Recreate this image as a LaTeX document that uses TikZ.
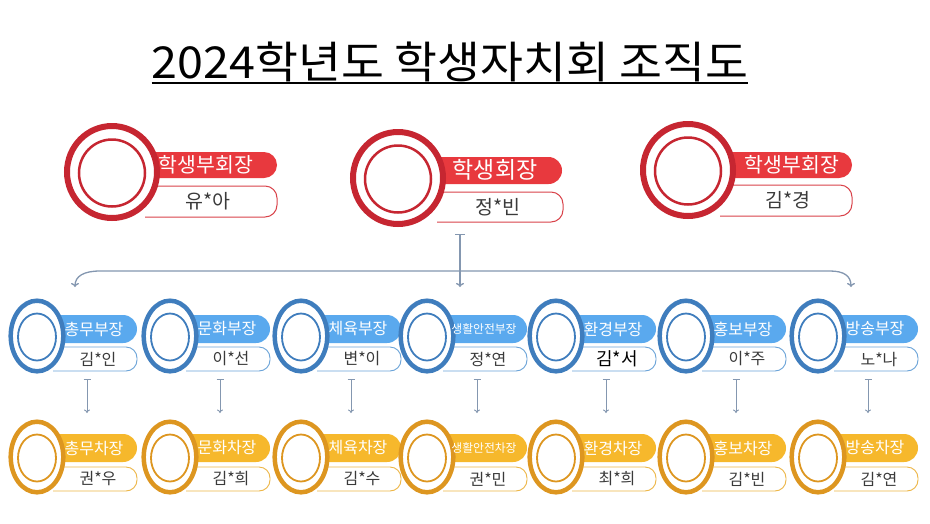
\documentclass[tikz,border=0pt]{standalone}
\usepackage{fontspec}
\setmainfont{Noto Sans CJK KR}
\usetikzlibrary{arrows.meta}
\definecolor{redring}{HTML}{C62631}
\definecolor{redpill}{HTML}{E8393E}
\definecolor{redline}{HTML}{D9434A}
\definecolor{bluering}{HTML}{3F7DBD}
\definecolor{bluepill}{HTML}{5AA9EE}
\definecolor{blueline}{HTML}{6AA3D8}
\definecolor{goldring}{HTML}{DD9620}
\definecolor{goldpill}{HTML}{F6B82C}
\definecolor{goldline}{HTML}{EDB646}
\definecolor{conncol}{HTML}{8497B0}
\definecolor{nametxt}{HTML}{3A3A3A}
\tikzset{
  bigconn/.style={draw=conncol, line width=1.3pt, {Bar[width=10pt]}-{To[length=4pt,width=8pt]}},
  bigline/.style={draw=conncol, line width=1.3pt, -{To[length=4pt,width=8pt]}},
  smallconn/.style={draw=conncol, line width=0.9pt, {Bar[width=7pt]}-{To[length=3.5pt,width=6pt]}},
  toplabel/.style={text=white, font=\fontsize{20.5}{20.5}\selectfont, inner sep=0pt},
  topname/.style={text=nametxt, font=\fontsize{19.5}{19.5}\selectfont, inner sep=0pt},
  rl/.style={text=white, font=\fontsize{16}{16}\selectfont, inner sep=0pt},
  rls/.style={text=white, font=\fontsize{11.8}{11.8}\selectfont, inner sep=0pt},
  nl/.style={text=nametxt, font=\fontsize{16}{16}\selectfont, inner sep=0pt},
  nlb/.style={text=black, font=\fontsize{18}{18}\selectfont, inner sep=0pt},
}
\begin{document}
\begin{tikzpicture}[x=1pt,y=-1pt]
\useasboundingbox[fill=white] (0,0) rectangle (930,523);

% title
\node[inner sep=0pt, anchor=base, font=\fontsize{44}{44}\selectfont] (title) at (450,78) {\scalebox{1.06}[1]{2024학년도 학생자치회 조직도}};
\draw[line width=2pt] ([yshift=-4.5pt]title.base west) -- ([yshift=-4.5pt]title.base east);

% ---- top row ----
% left vice president
\draw[redline, line width=1pt, rounded corners=12pt] (112,186) -- (277,186) -- (277,217) -- (145,217);
\fill[redpill, rounded corners=13pt] (112,152) rectangle (277,178);
\draw[redring, line width=6pt, fill=white] (112,172) ellipse [x radius=45pt, y radius=46pt];
\draw[redring, line width=2.5pt] (112,173) ellipse [x radius=33pt, y radius=33.5pt];
\node[toplabel] (vp1) at (206,165) {학생부회장};
\node[topname] (vp1n) at (208,201) {유*아};

% president
\draw[redline, line width=1pt, rounded corners=12pt] (398,192) -- (563,192) -- (563,222) -- (437,222);
\fill[redpill, rounded corners=13.5pt] (398,157) rectangle (562,184);
\draw[redring, line width=6pt, fill=white] (398,178) ellipse [x radius=45pt, y radius=46pt];
\draw[redring, line width=2.5pt] (398,179) ellipse [x radius=33pt, y radius=33.5pt];
\node[toplabel, font=\fontsize{23}{23}\selectfont] (pres) at (495,170) {학생회장};
\node[topname] (presn) at (498,207) {정*빈};

% right vice president
\draw[redline, line width=1pt, rounded corners=12pt] (688,185) -- (852,185) -- (852,216) -- (720,216);
\fill[redpill, rounded corners=13pt] (688,152) rectangle (852,178);
\draw[redring, line width=6pt, fill=white] (688,170) ellipse [x radius=45pt, y radius=46pt];
\draw[redring, line width=2.5pt] (688,171) ellipse [x radius=33pt, y radius=33.5pt];
\node[toplabel] (vp2) at (792,165) {학생부회장};
\node[topname] (vp2n) at (788,200) {김*경};

% ---- connectors from the top ----
\coordinate (cs) at (460,234);
\coordinate (ce) at (460,287);
\coordinate (hm) at (460,271);
\coordinate (hl) at (100,271);
\coordinate (hr) at (830,271);
\coordinate (tl) at (75,287);
\coordinate (tr) at (851,287);
\draw[bigconn] (cs) -- (ce);
\draw[bigline] (hm) -- (hl) .. controls +(-16,0) and +(0,-11) .. (tl);
\draw[bigline] (hm) -- (hr) .. controls +(14,0) and +(0,-11) .. (tr);

% ---- middle row (department heads) ----
\foreach \i/\cx/\role/\rs/\nm/\ns in {1/37/총무부장/rl/김*인/nl, 2/170/문화부장/rl/이*선/nl, 3/301/체육부장/rl/변*이/nl, 4/427/생활안전부장/rls/정*연/nl, 5/556/환경부장/rl/김*서/nlb, 6/686/홍보부장/rl/이*주/nl, 7/818/방송부장/rl/노*나/nl}{
  \draw[blueline, line width=0.9pt, rounded corners=11pt] (\cx,347) -- (\cx+100,347) -- (\cx+100,371) -- (\cx+16,371);
  \fill[bluepill, rounded corners=14pt] (\cx,315) rectangle (\cx+100,343);
  \draw[bluering, line width=4.5pt, fill=white] (\cx,336) ellipse [x radius=26.3pt, y radius=35.3pt];
  \draw[bluering, line width=1.8pt] (\cx,337) ellipse [x radius=19pt, y radius=23.5pt];
  \node[\rs] (m\i) at (\cx+57,329) {\role};
  \node[\ns] (mn\i) at (\cx+61,359) {\nm};
  \coordinate (s\i) at (\cx+50,379);
  \coordinate (e\i) at (\cx+50,413);
  \draw[smallconn] (s\i) -- (e\i);
}

% ---- bottom row (vice heads) ----
\foreach \i/\cx/\role/\rs/\nm in {1/37/총무차장/rl/권*우, 2/170/문화차장/rl/김*희, 3/301/체육차장/rl/김*수, 4/427/생활안전차장/rls/권*민, 5/556/환경차장/rl/최*희, 6/686/홍보차장/rl/김*빈, 7/818/방송차장/rl/김*연}{
  \draw[goldline, line width=0.9pt, rounded corners=11pt] (\cx,467) -- (\cx+100,467) -- (\cx+100,491) -- (\cx+16,491);
  \fill[goldpill, rounded corners=14pt] (\cx,434) rectangle (\cx+100,462);
  \draw[goldring, line width=4.5pt, fill=white] (\cx,457) ellipse [x radius=26.3pt, y radius=35.3pt];
  \draw[goldring, line width=1.8pt] (\cx,458) ellipse [x radius=19pt, y radius=23.5pt];
  \node[\rs] (b\i) at (\cx+57,448) {\role};
  \node[nl] (bn\i) at (\cx+61,479) {\nm};
}
\end{tikzpicture}
\end{document}
